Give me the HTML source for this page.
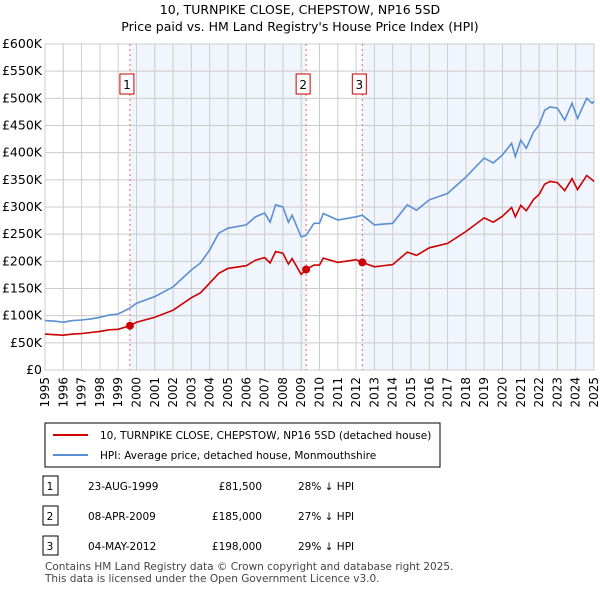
<!DOCTYPE html>
<html><head><meta charset="utf-8"><style>
body{margin:0;width:600px;height:590px;background:#fff;font-family:"DejaVu Sans",sans-serif;overflow:hidden}
svg text{font-family:"DejaVu Sans",sans-serif}
</style></head><body>
<svg id="c" width="600" height="590">
<text x="300" y="14" text-anchor="middle" font-size="12.5">10, TURNPIKE CLOSE, CHEPSTOW, NP16 5SD</text>
<text x="300" y="31" text-anchor="middle" font-size="12.5">Price paid vs. HM Land Registry's House Price Index (HPI)</text>
<g id="plot"></g>
<g>
<rect x="45" y="423" width="395" height="44" fill="#fff" stroke="#000" stroke-width="1"/>
<line x1="53" y1="435" x2="88" y2="435" stroke="#cc0000" stroke-width="2"/>
<text x="100" y="439" font-size="10.5">10, TURNPIKE CLOSE, CHEPSTOW, NP16 5SD (detached house)</text>
<line x1="53" y1="455" x2="88" y2="455" stroke="#5b8fd4" stroke-width="2"/>
<text x="100" y="459" font-size="10.5">HPI: Average price, detached house, Monmouthshire</text>
</g>
<g id="tbl" font-size="10.5"></g>
<text x="45" y="570" font-size="10.5" fill="#444">Contains HM Land Registry data © Crown copyright and database right 2025.</text>
<text x="45" y="582" font-size="10.5" fill="#444">This data is licensed under the Open Government Licence v3.0.</text>
</svg>
<script>
const hpiYears=[1995,1995.5,1996,1996.5,1997,1997.5,1998,1998.5,1999,1999.64,2000,2001,2002,2003,2003.5,2004,2004.5,2005,2006,2006.5,2007,2007.3,2007.6,2008,2008.3,2008.5,2009,2009.27,2009.7,2010,2010.2,2011,2012,2012.34,2013,2014,2014.8,2015.3,2016,2017,2018,2019,2019.5,2020,2020.5,2020.7,2021,2021.3,2021.7,2022,2022.3,2022.6,2023,2023.4,2023.8,2024.1,2024.6,2024.9,2025];
const hpiValues=[91,90,88,91,92,94,97,101,103,114,123,135,153,184,197,221,252,261,267,282,289,272,304,300,272,285,245,248,270,270,288,276,282,285,267,270,304,294,313,325,355,390,381,396,417,393,423,408,438,451,478,484,482,460,491,463,500,491,495];
const ppValues=[66,65,64,66,67,69,71,74,75,81.5,88,97,110,133,142,160,178,187,192,202,207,197,218,215,195,205,176,185,193,193,206,198,203,198,190,194,217,211,225,233,255,280,272,283,299,282,303,293,314,323,342,347,345,330,352,332,358,350,347];
const saleYears=[1999.64,2009.27,2012.34];
const saleValues=[81.5,185,198];
const saleLabels=["1","2","3"];
const saleDates=["23-AUG-1999","08-APR-2009","04-MAY-2012"];
const salePrices=["£81,500","£185,000","£198,000"];
const saleDiffs=["28% ↓ HPI","27% ↓ HPI","29% ↓ HPI"];
const yTicks=[0,50,100,150,200,250,300,350,400,450,500,550,600];
const yTickLabels=["£0","£50K","£100K","£150K","£200K","£250K","£300K","£350K","£400K","£450K","£500K","£550K","£600K"];
const xTicks=[1995,1996,1997,1998,1999,2000,2001,2002,2003,2004,2005,2006,2007,2008,2009,2010,2011,2012,2013,2014,2015,2016,2017,2018,2019,2020,2021,2022,2023,2024,2025];
const X0=45,X1=594,Y0=370,Y1=44;
const xs=y=>X0+(y-1995)/30*(X1-X0);
const ys=v=>Y0-v/600*(Y0-Y1);
const NS="http://www.w3.org/2000/svg";
const P=document.getElementById('plot');
function mk(t,a,par){const e=document.createElementNS(NS,t);for(const k in a)e.setAttribute(k,a[k]);(par||P).appendChild(e);return e;}
[[saleYears[0],saleYears[1]],[saleYears[2],2025]].forEach(r=>{const e=mk('rect',{x:xs(r[0]),y:Y1,width:xs(r[1])-xs(r[0]),height:Y0-Y1,fill:'#eef3fc',opacity:0.8});

});
yTicks.forEach((v,i)=>{const l=mk('line',{x1:X0,x2:X1,y1:ys(v),y2:ys(v),stroke:'#cccccc'});


const t=mk('text',{x:X0-3,y:ys(v)+4,'text-anchor':'end','font-size':12.5});t.textContent=yTickLabels[i];

});
xTicks.forEach(y=>{const l=mk('line',{x1:xs(y),x2:xs(y),y1:Y1,y2:Y0,stroke:'#cccccc'});


const tx=xs(y)+4,ty=Y0+7;
const t=mk('text',{x:tx,y:ty,'text-anchor':'end','font-size':12,transform:'rotate(-90 '+tx+' '+ty+')'});t.textContent=y;

});
const b=mk('rect',{x:X0,y:Y1,width:X1-X0,height:Y0-Y1,fill:'none',stroke:'#cccccc'});


saleYears.forEach((y,i)=>{const l=mk('line',{x1:xs(y),x2:xs(y),y1:Y1,y2:Y0,stroke:'#ee6666','stroke-dasharray':'2,3'});


const r=mk('rect',{x:xs(y)-10,y:74,width:14,height:20,fill:'#fff',stroke:'#cc0000'});


const t=mk('text',{x:xs(y)-3,y:89,'text-anchor':'middle','font-size':12});t.textContent=saleLabels[i];

});
function line(vals,col,name){const d=hpiYears.map((y,i)=>(i?'L':'M')+xs(y).toFixed(1)+','+ys(vals[i]).toFixed(1)).join('');
const p=mk('path',{d:d,fill:'none',stroke:col,'stroke-width':1.6});

}
line(hpiValues,'#5b8fd4','hpi-line');
line(ppValues,'#cc0000','property-line');
saleYears.forEach((y,i)=>{const c=mk('circle',{cx:xs(y),cy:ys(saleValues[i]),r:4,fill:'#cc0000'});

});
const T=document.getElementById('tbl');
saleLabels.forEach((s,i)=>{const cy=487+i*30;
const r=mk('rect',{x:43,y:cy-11,width:15,height:19,fill:'#fff',stroke:'#000'},T);


const cells=[[50,s,'middle'],[88,saleDates[i],'start'],[262,salePrices[i],'end'],[298,saleDiffs[i],'start']];
cells.forEach(c=>{const t=mk('text',{x:c[0],y:cy+3,'text-anchor':c[2]},T);t.textContent=c[1];

});});
</script>
</body></html>
